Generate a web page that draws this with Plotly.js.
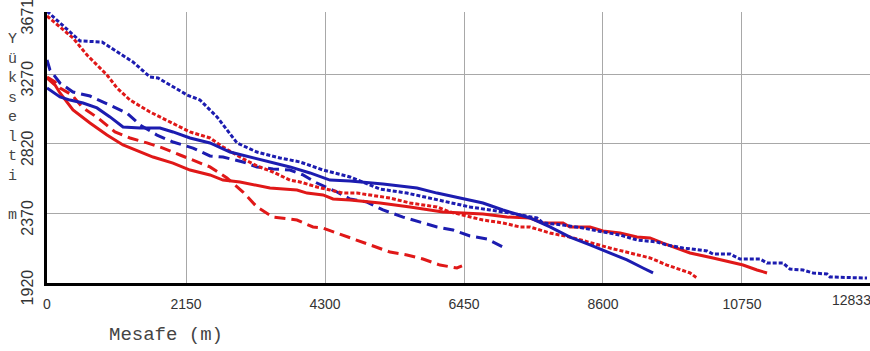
<!DOCTYPE html>
<html>
<head>
<meta charset="utf-8">
<script src="https://cdn.plot.ly/plotly-3.0.1.min.js"></script>
<style>html,body{margin:0;padding:0;background:#fff;}#chart{width:870px;height:351px;}</style>
</head>
<body>
<div id="chart"></div>
<script>
// Distance ticks (m) and elevation ticks (m)
const xTicks = [0, 2150, 4300, 6450, 8600, 10750];
const xMaxLabel = "12833";
const yTicks = [1920, 2370, 2820, 3270, 3671];

// Blue dotted
const bDotX = [0, 510, 851, 1330, 1593, 1717, 2166, 2367, 2630, 2939, 3248, 3604, 3913, 4269, 4687, 5151, 5568, 5924, 6234, 6543, 6852, 7162, 7579, 7672, 7982, 8291, 8600, 8863, 9126, 9435, 9590, 9838, 10209, 10302, 10565, 10719, 11029, 11137, 11384, 11493, 11694, 11849, 12065, 12111, 12684];
const bDotY = [3676, 3484, 3477, 3348, 3251, 3245, 3135, 3102, 2993, 2825, 2766, 2728, 2702, 2650, 2605, 2527, 2501, 2469, 2443, 2411, 2392, 2372, 2340, 2308, 2295, 2275, 2250, 2230, 2198, 2185, 2166, 2146, 2127, 2107, 2107, 2075, 2075, 2049, 2049, 2010, 2004, 1985, 1978, 1959, 1952];

// Blue solid
const bSolX = [0, 201, 356, 557, 773, 974, 1176, 1439, 1748, 1949, 2212, 2521, 2831, 3140, 3449, 3759, 4068, 4377, 4687, 5197, 5723, 6033, 6388, 6744, 7053, 7316, 7471, 7780, 8090, 8399, 8708, 8971, 9219, 9374];
const bSolY = [3180, 3122, 3102, 3083, 3051, 2993, 2928, 2921, 2921, 2896, 2857, 2825, 2766, 2734, 2702, 2670, 2631, 2585, 2579, 2560, 2534, 2501, 2469, 2437, 2392, 2359, 2340, 2282, 2217, 2166, 2114, 2069, 2017, 1985];

// Blue dashed
const bDashX = [0, 46, 201, 402, 665, 928, 1237, 1439, 1701, 1949, 2258, 2521, 2722, 3032, 3248, 3496, 3759, 3960, 4176, 4486, 4687, 4950, 5197, 5507, 5770, 6033, 6280, 6543, 6806, 7084];
const bDashY = [3361, 3296, 3212, 3154, 3128, 3077, 3018, 2941, 2876, 2831, 2792, 2741, 2734, 2702, 2670, 2657, 2650, 2618, 2566, 2508, 2463, 2443, 2392, 2346, 2314, 2282, 2262, 2224, 2204, 2146];

// Red solid
const rSolX = [0, 124, 201, 402, 665, 928, 1176, 1439, 1640, 1949, 2212, 2521, 2722, 2985, 3248, 3449, 3867, 4022, 4269, 4424, 4687, 5151, 5615, 6125, 6435, 6744, 7115, 7471, 7672, 7982, 8090, 8399, 8600, 8863, 9126, 9327, 9528, 9838, 9946, 10302, 10565, 10766, 10982, 11137];
const rSolY = [3245, 3199, 3148, 3038, 2954, 2876, 2812, 2766, 2734, 2695, 2650, 2618, 2585, 2573, 2553, 2534, 2521, 2501, 2489, 2463, 2456, 2437, 2411, 2379, 2372, 2366, 2346, 2340, 2308, 2308, 2282, 2282, 2256, 2243, 2217, 2211, 2178, 2133, 2114, 2082, 2056, 2036, 2004, 1985];

// Red dashed
const rDashX = [0, 124, 201, 387, 541, 789, 1052, 1284, 1547, 1794, 2057, 2320, 2521, 2784, 3032, 3248, 3496, 3867, 4114, 4269, 4795, 5043, 5306, 5568, 5816, 6079, 6342, 6419];
const rDashY = [3251, 3219, 3180, 3135, 3057, 2986, 2896, 2857, 2825, 2792, 2747, 2702, 2670, 2598, 2508, 2411, 2346, 2327, 2282, 2275, 2198, 2159, 2120, 2101, 2075, 2036, 2017, 2030];

// Red dotted
const rDotX = [0, 201, 402, 619, 820, 928, 1083, 1284, 1593, 1903, 2212, 2521, 2722, 2985, 3248, 3496, 3759, 3913, 4176, 4377, 4579, 4795, 4996, 5306, 5615, 6033, 6234, 6543, 6744, 7053, 7316, 7471, 7780, 8090, 8353, 8708, 9018, 9327, 9590, 9946, 10054];
const rDotY = [3645, 3574, 3503, 3393, 3309, 3264, 3180, 3102, 3025, 2960, 2896, 2857, 2799, 2734, 2676, 2637, 2585, 2573, 2540, 2521, 2501, 2501, 2489, 2469, 2437, 2411, 2379, 2346, 2327, 2308, 2282, 2282, 2243, 2217, 2185, 2146, 2114, 2082, 2036, 1985, 1952];

const BLUE = "#1c1cb0";
const RED = "#e01818";
const DOT = "4px,2px";
const DASH = "11px,6px";

function tr(x, y, color, dash) {
  return {x: x, y: y, type: "scatter", mode: "lines", hoverinfo: "skip",
          line: {color: color, width: 3, dash: dash}};
}

const data = [
  tr(rDashX, rDashY, RED, DASH),
  tr(bDashX, bDashY, BLUE, DASH),
  tr(rDotX, rDotY, RED, DOT),
  tr(rSolX, rSolY, RED, "solid"),
  tr(bSolX, bSolY, BLUE, "solid"),
  tr(bDotX, bDotY, BLUE, DOT)
];

const layout = {
  width: 870, height: 351,
  margin: {l: 47, r: 0, t: 12, b: 68, pad: 0},
  paper_bgcolor: "#fff", plot_bgcolor: "#fff",
  showlegend: false,
  xaxis: {
    range: [0, 12730], tickvals: xTicks, ticktext: xTicks.map(String),
    showgrid: true, gridcolor: "#a8a8a8", gridwidth: 1,
    showline: true, linecolor: "#000", linewidth: 3,
    zeroline: false, ticks: "", ticklabelstandoff: 6,
    tickfont: {family: "Liberation Sans Narrow, Liberation Sans, Arial", size: 14, color: "#333"}
  },
  yaxis: {
    range: [1920, 3671], tickvals: yTicks, ticktext: yTicks.map(String),
    showgrid: true, gridcolor: "#a8a8a8", gridwidth: 1,
    showline: true, linecolor: "#000", linewidth: 3,
    zeroline: false, ticks: "", tickangle: -90, ticklabelstandoff: 5,
    ticklabelshift: 7, ticklabeloverflow: "allow",
    tickfont: {family: "Liberation Sans, Arial", size: 16, color: "#333"}
  },
  annotations: [
    {text: xMaxLabel, xref: "paper", yref: "paper", x: 0.977, y: -0.063,
     xanchor: "center", yanchor: "middle", showarrow: false,
     font: {family: "Liberation Sans Narrow, Liberation Sans, Arial", size: 14, color: "#333"}},
    {text: "Mesafe (m)", xref: "paper", yref: "paper", x: 0.1446, y: -0.192,
     xanchor: "center", yanchor: "middle", showarrow: false,
     font: {family: "Liberation Mono, Courier New, monospace", size: 19, color: "#444"}},
    {text: "Y<br>ü<br>k<br>s<br>e<br>l<br>t<br>i<br>\u00a0<br>m", xref: "paper", yref: "paper",
     x: -0.0425, y: 0.5756, xanchor: "center", yanchor: "middle", showarrow: false,
     font: {family: "Liberation Mono, Courier New, monospace", size: 15, color: "#444"}}
  ]
};

Plotly.newPlot("chart", data, layout, {staticPlot: true, displayModeBar: false});
</script>
</body>
</html>
